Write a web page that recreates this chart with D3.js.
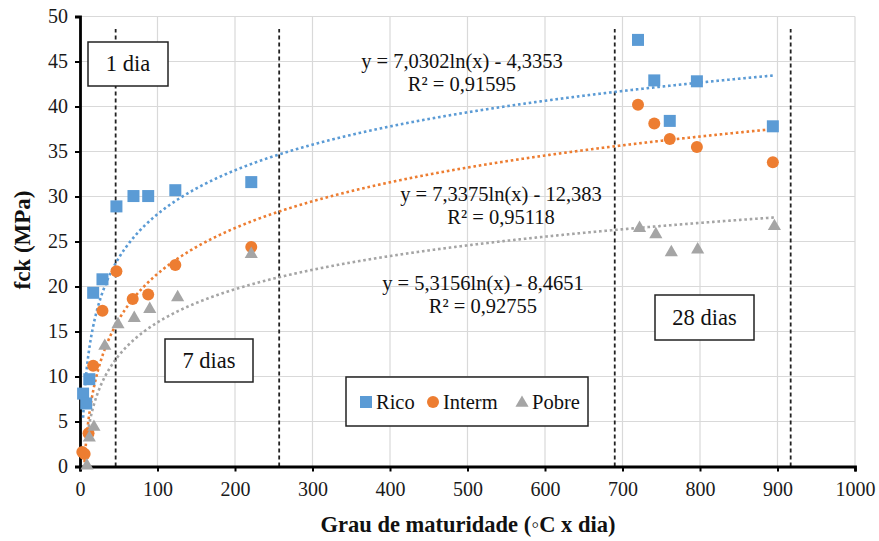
<!DOCTYPE html>
<html>
<head>
<meta charset="utf-8">
<script src="https://cdn.jsdelivr.net/npm/d3@7"></script>
<style>
  body { margin: 0; background: #fff; }
</style>
</head>
<body>
<svg id="chart" width="879" height="541"></svg>
<script>
// series names
var seriesNames = ["Rico", "Interm", "Pobre"];

// maturity (x) and fck (y) per series
var ricoX = [4, 8, 12, 17, 29, 47, 69, 88, 123, 221, 720, 741, 761, 796, 894];
var ricoY = [8.1, 7.0, 9.7, 19.3, 20.8, 28.9, 30.05, 30.05, 30.7, 31.6, 47.4, 42.9, 38.4, 42.8, 37.8];

var intermX = [3, 6, 11, 17, 29, 47, 68, 88, 123, 221, 720, 741, 761, 796, 894];
var intermY = [1.6, 1.4, 3.7, 11.2, 17.3, 21.7, 18.6, 19.1, 22.4, 24.4, 40.2, 38.1, 36.4, 35.5, 33.8];

var pobreX = [9, 12, 18, 32, 49, 70, 90, 126, 221, 722, 743, 763, 797, 896];
var pobreY = [0.2, 3.3, 4.5, 13.5, 15.9, 16.6, 17.6, 18.9, 23.7, 26.6, 25.9, 23.9, 24.2, 26.8];

// log trend coefficients printed on the chart: y = a ln(x) + b
var trendA = [7.0302, 7.3375, 5.3156];
var trendB = [-4.3353, -12.383, -8.4651];
var trendLabels = [
  ["y = 7,0302ln(x) - 4,3353", "R² = 0,91595"],
  ["y = 7,3375ln(x) - 12,383", "R² = 0,95118"],
  ["y = 5,3156ln(x) - 8,4651", "R² = 0,92755"]
];

// age markers (vertical dashed lines) and boxes
var ageLines = [46, 257, 690, 917];
var ageBoxes = ["1 dia", "7 dias", "28 dias"];

var xTicks = [0, 100, 200, 300, 400, 500, 600, 700, 800, 900, 1000];
var yTicks = [0, 5, 10, 15, 20, 25, 30, 35, 40, 45, 50];

var colors = ["#5B9BD5", "#ED7D31", "#A5A5A5"];
var serif = "'Liberation Serif', 'Times New Roman', Times, serif";

var svg = d3.select("#chart").style("font-family", serif);

var x = d3.scaleLinear().domain([0, 1000]).range([80, 855]);
var y = d3.scaleLinear().domain([0, 50]).range([466.5, 16.5]);

// gridlines
svg.append("g")
  .selectAll("line")
  .data(xTicks.slice(1))
  .enter()
  .append("line")
  .attr("x1", function(d) { return x(d) })
  .attr("x2", function(d) { return x(d) })
  .attr("y1", y(0))
  .attr("y2", y(50))
  .attr("stroke", "#d9d9d9")
  .attr("stroke-width", 1.2)

svg.append("g")
  .selectAll("line")
  .data(yTicks.slice(1))
  .enter()
  .append("line")
  .attr("x1", x(0))
  .attr("x2", x(1000))
  .attr("y1", function(d) { return y(d) })
  .attr("y2", function(d) { return y(d) })
  .attr("stroke", "#d9d9d9")
  .attr("stroke-width", 1.2)

// dashed age lines
svg.append("g")
  .selectAll("line")
  .data(ageLines)
  .enter()
  .append("line")
  .attr("x1", function(d) { return x(d) })
  .attr("x2", function(d) { return x(d) })
  .attr("y1", y(0))
  .attr("y2", y(48.6))
  .attr("stroke", "#222")
  .attr("stroke-width", 1.8)
  .attr("stroke-dasharray", "4,3")

// axes
var xAxis = d3.axisBottom(x).tickValues(xTicks).tickFormat(d3.format("d")).tickSize(5).tickPadding(10)
svg.append("g")
  .attr("class", "axis x-axis")
  .attr("transform", "translate(0," + y(0) + ")")
  .call(xAxis)

var yAxis = d3.axisLeft(y).tickValues(yTicks).tickFormat(d3.format("d")).tickSize(5).tickPadding(7)
svg.append("g")
  .attr("class", "axis y-axis")
  .attr("transform", "translate(" + x(0) + ",0)")
  .call(yAxis)

svg.selectAll(".axis").attr("font-family", null).attr("font-size", null)
svg.selectAll(".axis .domain").attr("stroke", "#000").attr("stroke-width", 2.8)
svg.selectAll(".axis .tick line").attr("stroke", "#000").attr("stroke-width", 2)
svg.selectAll(".axis text")
  .style("font-family", serif)
  .style("font-size", "20px")
  .attr("fill", "#1a1a1a")

// age boxes
var boxSpecs = [
  { x0: 88, y0: 42, x1: 168, y1: 86 },
  { x0: 165, y0: 339, x1: 253, y1: 382 },
  { x0: 655, y0: 295, x1: 754, y1: 340 }
];
ageBoxes.forEach(function(label, i) {
  var b = boxSpecs[i];
  svg.append("rect")
    .attr("x", b.x0).attr("y", b.y0)
    .attr("width", b.x1 - b.x0).attr("height", b.y1 - b.y0)
    .attr("fill", "#fff").attr("stroke", "#222").attr("stroke-width", 1.5)
  svg.append("text")
    .attr("x", (b.x0 + b.x1) / 2).attr("y", (b.y0 + b.y1) / 2 + 7)
    .attr("text-anchor", "middle")
    .style("font-size", "22.5px")
    .attr("fill", "#111")
    .text(label)
});

// clip for trendlines
svg.append("clipPath").attr("id", "plot-clip")
  .append("rect")
  .attr("x", x(0)).attr("y", y(50))
  .attr("width", x(1000) - x(0)).attr("height", y(0) - y(50))

var seriesX = [ricoX, intermX, pobreX];
var seriesY = [ricoY, intermY, pobreY];

var line = d3.line()
  .x(function(d) { return x(d[0]) })
  .y(function(d) { return y(d[1]) })

// trendlines
seriesX.forEach(function(xs, i) {
  var xmin = d3.min(xs), xmax = d3.max(xs);
  var pts = d3.range(xmin, xmax, 0.5).concat([xmax]).map(function(v) {
    return [v, trendA[i] * Math.log(v) + trendB[i]];
  });
  svg.append("path")
    .datum(pts)
    .attr("clip-path", "url(#plot-clip)")
    .attr("d", line)
    .attr("fill", "none")
    .attr("stroke", colors[i])
    .attr("stroke-width", 2.6)
    .attr("stroke-dasharray", "2.6,2.8")
});

// markers
function drawMarker(g, kind, cx, cy, color) {
  if (kind === 0) {
    g.append("rect")
      .attr("x", cx - 6).attr("y", cy - 6)
      .attr("width", 12).attr("height", 12)
      .attr("fill", color)
  } else if (kind === 1) {
    g.append("circle")
      .attr("cx", cx).attr("cy", cy).attr("r", 6)
      .attr("fill", color)
  } else {
    g.append("path")
      .attr("d", d3.symbol().type(d3.symbolTriangle).size(75)())
      .attr("transform", "translate(" + cx + "," + (cy + 1) + ")")
      .attr("fill", color)
  }
}

var markers = svg.append("g")
seriesX.forEach(function(xs, i) {
  xs.forEach(function(v, j) {
    drawMarker(markers, i, x(v), y(seriesY[i][j]), colors[i])
  })
});

// trend equations (centre x, first baseline)
var eqPos = [[462, 68], [501, 201], [483, 290]];
trendLabels.forEach(function(lines, i) {
  lines.forEach(function(t, k) {
    svg.append("text")
      .attr("x", eqPos[i][0])
      .attr("y", eqPos[i][1] + k * 22.5)
      .attr("text-anchor", "middle")
      .style("font-size", "20.5px")
      .attr("fill", "#111")
      .text(t)
  })
});

// legend
var legend = svg.append("g")
legend.append("rect")
  .attr("x", 346).attr("y", 377)
  .attr("width", 242).attr("height", 49)
  .attr("fill", "#fff").attr("stroke", "#222").attr("stroke-width", 1.5)
var legX = [366, 433, 522];
seriesNames.forEach(function(name, i) {
  drawMarker(legend, i, legX[i], 402, colors[i])
  legend.append("text")
    .attr("x", legX[i] + 10).attr("y", 409)
    .style("font-size", "20.5px")
    .attr("fill", "#111")
    .text(name)
});

// axis titles
svg.append("text")
  .attr("x", 468).attr("y", 532)
  .attr("text-anchor", "middle")
  .style("font-size", "22.5px").attr("font-weight", "bold")
  .attr("fill", "#111")
  .text("Grau de maturidade (◦C x dia)")

svg.append("text")
  .attr("transform", "translate(30,240) rotate(-90)")
  .attr("text-anchor", "middle")
  .style("font-size", "23px").attr("font-weight", "bold")
  .attr("fill", "#111")
  .text("fck (MPa)")
</script>
</body>
</html>
